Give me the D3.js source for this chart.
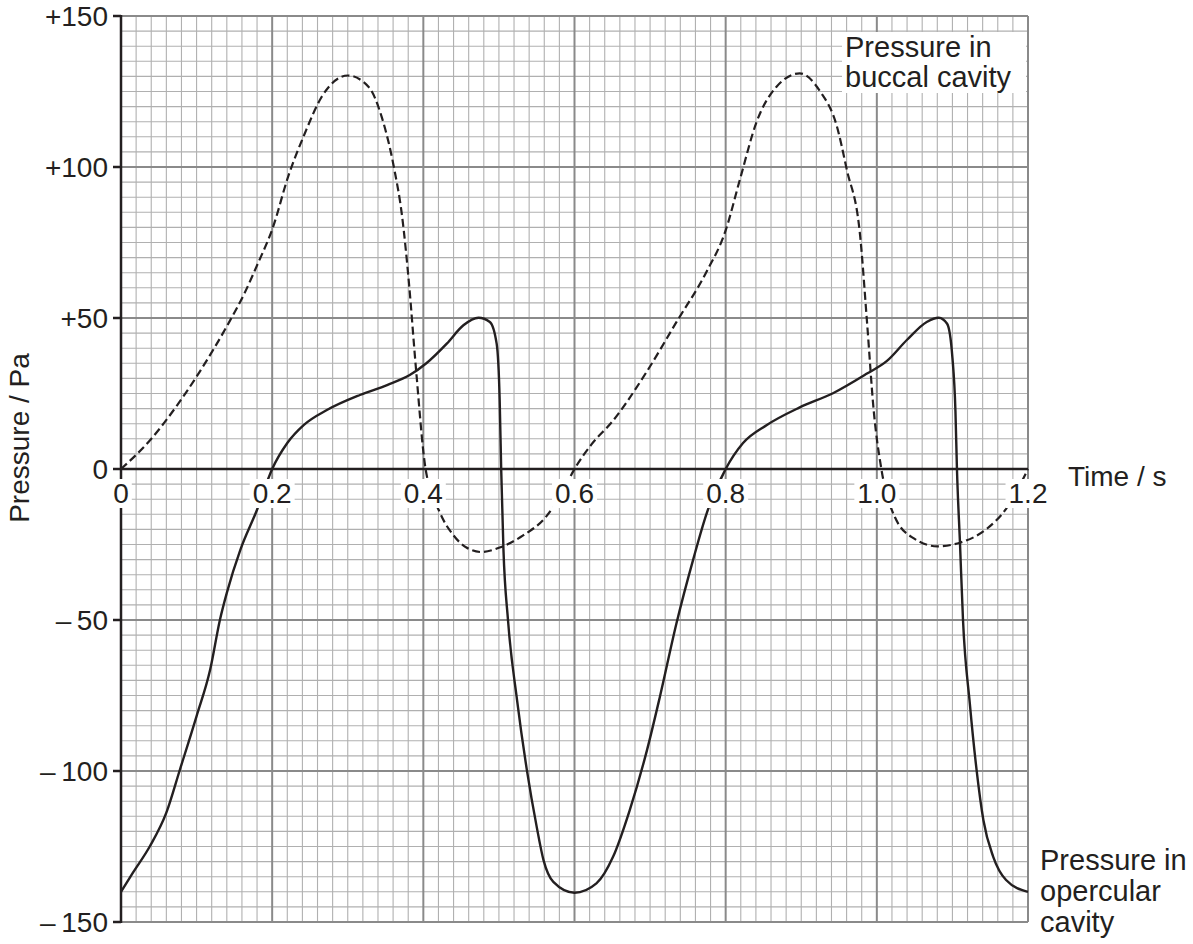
<!DOCTYPE html>
<html>
<head>
<meta charset="utf-8">
<script src="https://cdn.jsdelivr.net/npm/d3@7"></script>
<style>
  body { margin: 0; background: #fff; }
  text { font-family: "Liberation Sans", Arial, sans-serif; fill: #231f20; }
</style>
</head>
<body>
<div id="chart"></div>
<script>
const margin = {top: 16, left: 121}, width = 907, height = 906;
const fontSize = 28

// axes
const timeTicks = [0, 0.2, 0.4, 0.6, 0.8, 1.0, 1.2]
const timeLabels = ["0", "0.2", "0.4", "0.6", "0.8", "1.0", "1.2"]
const pressureTicks = [150, 100, 50, 0, -50, -100, -150]
const pressureLabels = ["+150", "+100", "+50", "0", "\u2013\u200950", "\u2013\u2009100", "\u2013\u2009150"]

// pressure in buccal cavity (dashed)
const buccalTime = [0, 0.039, 0.074, 0.10, 0.141, 0.163, 0.181, 0.201, 0.221, 0.243, 0.265, 0.30, 0.328, 0.345, 0.361, 0.372, 0.381, 0.39, 0.403,
  0.422, 0.44, 0.457, 0.477, 0.501, 0.532, 0.563, 0.582, 0.6,
  0.622, 0.65, 0.695, 0.735, 0.774, 0.8, 0.819, 0.841, 0.867, 0.898, 0.925, 0.947, 0.96, 0.978, 0.987, 0.996, 1.006,
  1.024, 1.049, 1.08, 1.11, 1.146, 1.173, 1.2]
const buccalPressure = [0, 9.7, 21, 30.6, 47.7, 58, 68, 80, 96.7, 111, 123, 130.3, 126.4, 116.5, 100, 83.5, 61.5, 34, 0,
  -14.5, -22, -26, -27.5, -26, -22, -15.6, -8.5, 0,
  8, 15.7, 32, 48.7, 65, 79, 96, 115, 126.5, 131, 125, 113.6, 99.4, 77, 48.7, 19, 0,
  -16, -23, -25.6, -24.4, -19.7, -12.5, 0]

// pressure in opercular cavity (solid)
const opercularTime = [0, 0.016, 0.038, 0.06, 0.078, 0.1, 0.118, 0.131, 0.14, 0.158, 0.18, 0.2,
  0.22, 0.242, 0.273, 0.316, 0.352, 0.382, 0.404, 0.431, 0.453, 0.473, 0.488, 0.497, 0.501, 0.503,
  0.506, 0.512, 0.524, 0.537, 0.55, 0.559, 0.572, 0.6, 0.629, 0.651, 0.673, 0.696, 0.713, 0.735, 0.757, 0.775, 0.8,
  0.823, 0.854, 0.898, 0.942, 0.987, 1.013, 1.04, 1.066, 1.082, 1.093, 1.1, 1.104, 1.106,
  1.11, 1.114, 1.123, 1.132, 1.141, 1.154, 1.171, 1.2]
const opercularPressure = [-140, -133.6, -125, -113.8, -99.5, -81.8, -66.4, -49.8, -41, -26.7, -13.5, 0,
  8.6, 14.6, 19.6, 24.5, 27.8, 31.1, 35, 41.5, 47.6, 50.1, 48.7, 41.5, 22.9, 0,
  -26.7, -50, -76.5, -99.7, -118.5, -129.5, -136.7, -140.3, -137.2, -128.4, -113, -93, -75.4, -51, -30, -14.6, 0,
  8.6, 14.5, 20.4, 25.1, 31.6, 35.7, 42.8, 48.7, 50.1, 48.1, 36.9, 19.2, 0,
  -24.5, -50, -77.6, -99.7, -116.3, -128.4, -136.1, -140]

const xScale = d3.scaleLinear().domain([0, 1.2]).range([0, width]);
const yScale = d3.scaleLinear().domain([-150, 150]).range([height, 0]);

const svg = d3.select("#chart")
    .append("svg")
    .attr("width", 1193)
    .attr("height", 944)
    .append("g")
    .attr("transform", "translate(" + margin.left + "," + margin.top + ")");

// grid: minor every 0.02 s / 5 Pa, major every 0.2 s / 50 Pa
const minorGrid = svg.append("g")
const majorGrid = svg.append("g")
d3.range(61).forEach(i => {
    const major = i % 10 == 0
    const g = major ? majorGrid : minorGrid
    g.append("line")
        .attr("x1", xScale(i * 0.02)).attr("x2", xScale(i * 0.02))
        .attr("y1", 0).attr("y2", height)
        .attr("stroke", major ? "#8a8a8a" : "#b0b0b0")
        .attr("stroke-width", major ? 2 : 1.1)
    g.append("line")
        .attr("x1", 0).attr("x2", width)
        .attr("y1", yScale(-150 + i * 5)).attr("y2", yScale(-150 + i * 5))
        .attr("stroke", major ? "#8a8a8a" : "#b0b0b0")
        .attr("stroke-width", major ? 2 : 1.1)
})

// axes lines
svg.append("line")
    .attr("x1", 0).attr("x2", 0).attr("y1", -1).attr("y2", height + 1)
    .attr("stroke", "#231f20").attr("stroke-width", 2.5)
svg.append("line")
    .attr("x1", 0).attr("x2", width).attr("y1", yScale(0)).attr("y2", yScale(0))
    .attr("stroke", "#231f20").attr("stroke-width", 2.5)

svg.selectAll(".ytick")
    .data(pressureTicks)
    .enter().append("line")
    .attr("x1", -8).attr("x2", 0)
    .attr("y1", d => yScale(d)).attr("y2", d => yScale(d))
    .attr("stroke", "#231f20").attr("stroke-width", 2.5)

// curves
const line = d3.line()
    .x(d => xScale(d[0]))
    .y(d => yScale(d[1]))
    .curve(d3.curveMonotoneX);

svg.append("path")
    .datum(buccalTime.map((t, i) => [t, buccalPressure[i]]))
    .attr("d", line)
    .attr("fill", "none")
    .attr("stroke", "#231f20")
    .attr("stroke-width", 2.2)
    .attr("stroke-dasharray", "8,4")

svg.append("path")
    .datum(opercularTime.map((t, i) => [t, opercularPressure[i]]))
    .attr("d", line)
    .attr("fill", "none")
    .attr("stroke", "#231f20")
    .attr("stroke-width", 2.4)

// text with white background box
function boxedText(parent, x, y, str, anchor, pad) {
    const g = parent.append("g")
    const rect = g.append("rect").attr("fill", "#fff")
    const t = g.append("text")
        .attr("x", x).attr("y", y)
        .attr("text-anchor", anchor)
        .style("font-size", fontSize + "px")
        .text(str)
    const b = t.node().getBBox()
    rect.attr("x", b.x - pad).attr("y", b.y + 4 - pad)
        .attr("width", b.width + 2 * pad).attr("height", b.height - 8 + 2 * pad)
    return g
}

// x tick labels
timeTicks.forEach((d, i) => {
    boxedText(svg, xScale(d), yScale(0) + 34, timeLabels[i], "middle", 3)
})

// y tick labels
pressureTicks.forEach((d, i) => {
    svg.append("text")
        .attr("x", -13)
        .attr("y", yScale(d) + 10)
        .attr("text-anchor", "end")
        .style("font-size", fontSize + "px")
        .text(pressureLabels[i])
})

// axis titles
svg.append("text")
    .attr("transform", "translate(" + (29 - margin.left) + "," + (438 - margin.top) + ") rotate(-90)")
    .attr("text-anchor", "middle")
    .style("font-size", fontSize + "px")
    .text("Pressure / Pa")

svg.append("text")
    .attr("x", 1068 - margin.left)
    .attr("y", 486 - margin.top)
    .style("font-size", fontSize + "px")
    .text("Time / s")

// legend labels
const buccalLabel = svg.append("g")
buccalLabel.append("rect")
    .attr("x", 842 - margin.left).attr("y", 32 - margin.top)
    .attr("width", 184).attr("height", 61)
    .attr("fill", "#fff")
const buccalLines = ["Pressure in", "buccal cavity"]
buccalLines.forEach((s, i) => {
    buccalLabel.append("text")
        .attr("x", 845 - margin.left)
        .attr("y", 57 - margin.top + i * 30)
        .style("font-size", "29px")
        .text(s)
})

const opercularLines = ["Pressure in", "opercular", "cavity"]
opercularLines.forEach((s, i) => {
    svg.append("text")
        .attr("x", 1040 - margin.left)
        .attr("y", 870 - margin.top + i * 31)
        .style("font-size", "29px")
        .text(s)
})
</script>
</body>
</html>
